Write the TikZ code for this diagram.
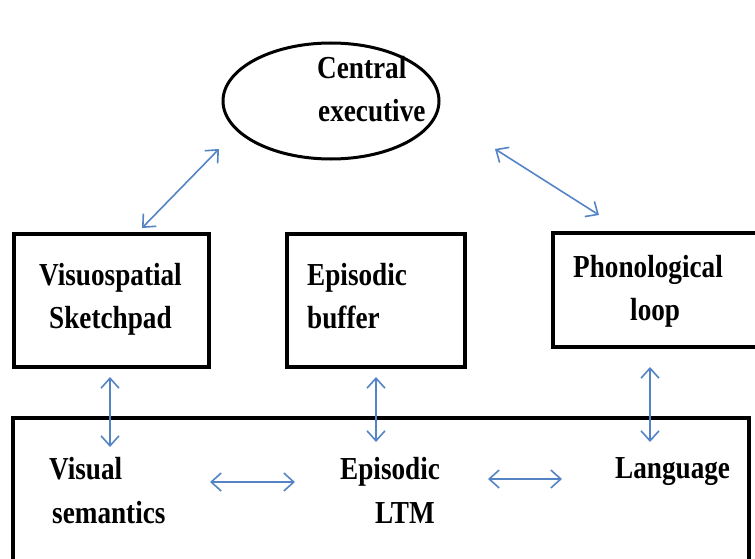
\documentclass[tikz,border=0pt]{standalone}
\usepackage{fontspec}
\setmainfont{Liberation Serif}[FakeStretch=0.85]
\usetikzlibrary{shapes.geometric,arrows.meta}
\definecolor{arrblue}{RGB}{84,132,196}
\tikzset{
  lbl/.style={inner sep=0pt, anchor=base west, font=\fontsize{32}{43}\selectfont\bfseries},
  boxed/.style={draw=black, line width=3.5pt, rectangle, inner sep=0pt},
  arr/.style={draw=arrblue, line width=1.6pt, {Straight Barb[length=10pt,width=18pt,line width=1.6pt]}-{Straight Barb[length=10pt,width=18pt,line width=1.6pt]}}
}
\begin{document}
\begin{tikzpicture}[x=1pt,y=-1pt]
\useasboundingbox (0,0) rectangle (755,559);
\clip (0,0) rectangle (755,559);
% shapes
\node[draw=black, line width=3pt, ellipse, minimum width=216pt, minimum height=116pt, inner sep=0pt] (ce) at (331,101) {};
\node[boxed, minimum width=195pt, minimum height=133pt] (vs) at (111.5,300.5) {};
\node[boxed, minimum width=178pt, minimum height=133pt] (eb) at (376,300.5) {};
\node[boxed, minimum width=212pt, minimum height=114pt] (pl) at (659,290) {};
\node[boxed, minimum width=736pt, minimum height=160pt] (ltm) at (381,498) {};
% texts
\node[lbl] (t1) at (317,79) {Central};
\node[lbl] (t2) at (318,122) {executive};
\node[lbl] (t3) at (39,285) {Visuospatial};
\node[lbl] (t4) at (49,328) {Sketchpad};
\node[lbl] (t5) at (307,285) {Episodic};
\node[lbl] (t6) at (307,328) {buffer};
\node[lbl] (t7) at (573,277) {Phonological};
\node[lbl] (t8) at (630,320) {loop};
\node[lbl] (t9) at (49,479) {Visual};
\node[lbl] (t10) at (52,523) {semantics};
\node[lbl] (t11) at (340,479) {Episodic};
\node[lbl] (t12) at (375,523) {LTM};
\node[lbl] (t13) at (615,478) {Language};
% arrow end points
\coordinate (a1s) at (142,228);
\coordinate (a1e) at (219,149);
\coordinate (a2s) at (495,149);
\coordinate (a2e) at (599,215);
\coordinate (v1s) at (110,377);
\coordinate (v1e) at (110,447);
\coordinate (v2s) at (376,377);
\coordinate (v2e) at (376,442);
\coordinate (v3s) at (650,367);
\coordinate (v3e) at (650,442);
\coordinate (h1s) at (210,482);
\coordinate (h1e) at (295,482);
\coordinate (h2s) at (488,479);
\coordinate (h2e) at (562,479);
\draw[arr] (a1s) -- (a1e);
\draw[arr] (a2s) -- (a2e);
\draw[arr] (v1s) -- (v1e);
\draw[arr] (v2s) -- (v2e);
\draw[arr] (v3s) -- (v3e);
\draw[arr] (h1s) -- (h1e);
\draw[arr] (h2s) -- (h2e);
\end{tikzpicture}
\end{document}
